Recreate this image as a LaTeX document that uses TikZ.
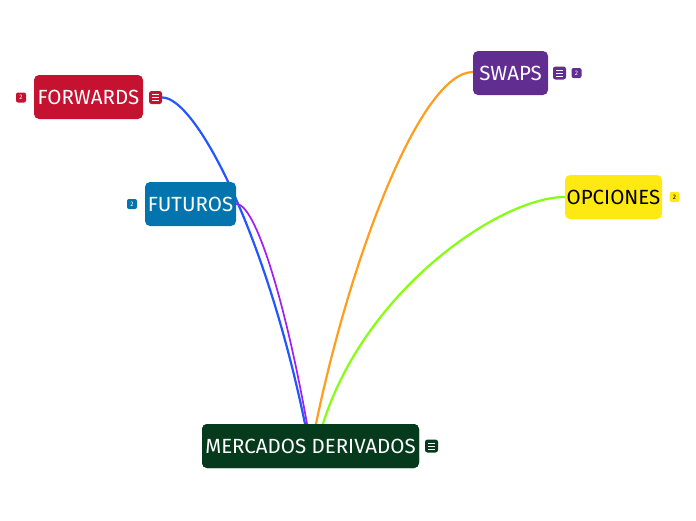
\documentclass[tikz,border=0pt]{standalone}
\usepackage{fontspec}
\setmainfont{Fira Sans}
\usetikzlibrary{calc}
\definecolor{cfwd}{HTML}{C41230}
\definecolor{cfut}{HTML}{0374AD}
\definecolor{cswp}{HTML}{622D91}
\definecolor{copc}{HTML}{FFE913}
\definecolor{croot}{HTML}{053B1C}
\definecolor{lblue}{HTML}{2257FF}
\definecolor{lpurple}{HTML}{A21EF5}
\definecolor{lorange}{HTML}{FF9E1C}
\definecolor{lgreen}{HTML}{84FF12}
\tikzset{
  topic/.style={rounded corners=5pt, inner sep=0pt, minimum height=44pt,
    font=\fontsize{20.5}{20.5}\selectfont, text=white},
  badge/.style={rounded corners=2pt, inner sep=0pt, minimum size=10pt,
    font=\fontsize{6.5}{6.5}\selectfont, text=white},
  noteicon/.style={rounded corners=2.5pt, inner sep=0pt, minimum size=13pt,
    path picture={
      \foreach \dy in {-3,0,3}{
        \draw[white, line width=0.8pt]
          ($(path picture bounding box.center)+(-3.5pt,\dy pt)$) -- ++(7pt,0);}
    }},
  conn/.style={line width=2.2pt, line cap=round}
}
\begin{document}
\begin{tikzpicture}[x=1pt, y=-1pt]
\useasboundingbox (0,0) rectangle (696,520);
\fill[white] (0,0) rectangle (696,520);

\node[topic, fill=croot, minimum width=217pt] (root) at (310.5,446) {MERCADOS DERIVADOS};
\node[topic, fill=cfwd, minimum width=109pt] (fwd) at (88.5,97) {FORWARDS};
\node[noteicon, fill=cfwd] (fwdicon) at (155.5,97.5) {};
\node[badge, fill=cfwd] (fwdbadge) at (21,97.5) {2};

\coordinate (e1) at ($(root.north)+(-5.5,0)$);
\coordinate (e2) at ($(root.north)+(-3.5,0)$);
\coordinate (e3) at ($(root.north)+(5.5,0)$);
\coordinate (e4) at ($(root.north)+(12.5,0)$);

\draw[conn, lblue, line width=2.2pt] (fwdicon.east) .. controls (195,97) and (265,230) .. (e1);
\node[topic, fill=cfut, minimum width=91pt] (fut) at (190.5,204) {FUTUROS};
\node[badge, fill=cfut] (futbadge) at (132,204) {2};

\draw[conn, lpurple, line width=1.7pt] (fut.east) .. controls (255,203) and (285,300) .. (e2);
\draw[conn, lorange] (473,72) .. controls (420,72) and (350,260) .. (e3);
\draw[conn, lgreen] (565,197) .. controls (500,197) and (365,290) .. (e4);

\node[topic, fill=cswp, minimum width=75pt] (swp) at (510.5,73) {SWAPS};
\node[noteicon, fill=cswp] (swpicon) at (559.5,73) {};
\node[badge, fill=cswp] (swpbadge) at (576.5,73) {2};

\node[topic, fill=copc, minimum width=97pt, text=black] (opc) at (613.5,197) {OPCIONES};
\node[badge, fill=copc, text=black] (opcbadge) at (674.5,197) {2};

\node[topic, fill=croot, minimum width=217pt] at (root) {MERCADOS DERIVADOS};
\node[noteicon, fill=croot] (rooticon) at (431.5,446) {};
\end{tikzpicture}
\end{document}
